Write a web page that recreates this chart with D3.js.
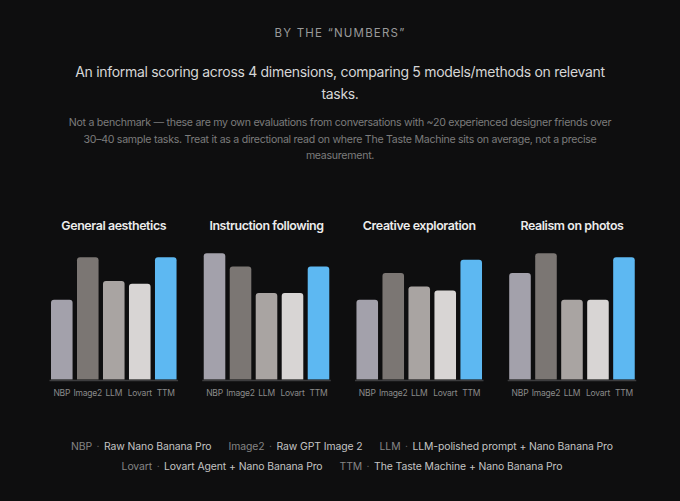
<!DOCTYPE html>
<html><head><meta charset="utf-8">
<script src="https://cdn.jsdelivr.net/npm/d3@7"></script>
<style>
html,body{margin:0;padding:0;background:#0e0e0f;}
svg{display:block;font-family:Inter,"Noto Sans",sans-serif;}
</style></head>
<body>
<svg id="c" width="680" height="501"></svg>
<script>
const dimensions = ["General aesthetics","Instruction following","Creative exploration","Realism on photos"];
const models = ["NBP","Image2","LLM","Lovart","TTM"];
const modelNames = ["Raw Nano Banana Pro","Raw GPT Image 2","LLM-polished prompt + Nano Banana Pro","Lovart Agent + Nano Banana Pro","The Taste Machine + Nano Banana Pro"];
const scoresNBP    = [6.0, 9.5, 6.0, 8.0];
const scoresImage2 = [9.2, 8.5, 8.0, 9.5];
const scoresLLM    = [7.4, 6.5, 7.0, 6.0];
const scoresLovart = [7.2, 6.5, 6.7, 6.0];
const scoresTTM    = [9.2, 8.5, 9.0, 9.2];
const colors = ["#a3a1ab","#7b7673","#a9a4a2","#d8d5d4","#5db8f2"];
const eyebrow = "BY THE “NUMBERS”";
const subtitleLines = ["An informal scoring across 4 dimensions, comparing 5 models/methods on relevant","tasks."];
const noteLines = ["Not a benchmark — these are my own evaluations from conversations with ~20 experienced designer friends over","30–40 sample tasks. Treat it as a directional read on where The Taste Machine sits on average, not a precise","measurement."];
const legendRows = [[0,1,2],[3,4]];

const series = [scoresNBP, scoresImage2, scoresLLM, scoresLovart, scoresTTM];
const svg = d3.select("#c");
const W = 680;

svg.append("text").attr("x", W/2).attr("y", 36.7).attr("text-anchor","middle")
  .attr("fill","#9a9a9a").attr("font-size",11.5).attr("letter-spacing","1.2px").text(eyebrow);

svg.selectAll("text.sub").data(subtitleLines).join("text").attr("class","sub")
  .attr("x", W/2).attr("y",(d,i)=>77+i*21.6).attr("text-anchor","middle")
  .attr("fill","#d6d6d6").attr("font-size",14).attr("letter-spacing","-0.3px").text(d=>d);

svg.selectAll("text.note").data(noteLines).join("text").attr("class","note")
  .attr("x", W/2).attr("y",(d,i)=>126.4+i*16.3).attr("text-anchor","middle")
  .attr("fill","#7c7c7c").attr("font-size",10.6).attr("letter-spacing","-0.28px").text(d=>d);

const panel = d3.scaleBand().domain(dimensions).range([51, 634.75]).paddingInner(0.178);
const y = d3.scaleLinear().domain([0,10]).range([379.5, 246.5]);
const r = 3;

dimensions.forEach((dim, di) => {
  const x0 = panel(dim), pw = panel.bandwidth();
  const x = d3.scaleBand().domain(models).range([x0, x0+pw]).paddingInner(0.17).paddingOuter(0);
  const g = svg.append("g");
  g.append("text").attr("x", x0+pw/2).attr("y", 229.5).attr("text-anchor","middle")
    .attr("fill","#ececec").attr("font-size",12.4).attr("font-weight",600).attr("letter-spacing","-0.4px").text(dim);
  g.selectAll("path.bar").data(models).join("path").attr("class","bar")
    .attr("fill",(m,i)=>colors[i])
    .attr("d",(m,i)=>{
      const v = series[i][di];
      const bx = x(m), bw = x.bandwidth(), top = y(v), bot = y(0);
      return `M${bx},${bot}V${top+r}Q${bx},${top} ${bx+r},${top}H${bx+bw-r}Q${bx+bw},${top} ${bx+bw},${top+r}V${bot}Z`;
    });
  g.append("line").attr("x1", x0-1.5).attr("x2", x0+pw+1.5).attr("y1", 380.5).attr("y2", 380.5)
    .attr("stroke","#3c3c3e").attr("stroke-width",1.5);
  const ax = g.append("g").attr("transform",`translate(0,386.5)`).call(d3.axisBottom(x).tickSize(0).tickPadding(3));
  ax.select(".domain").remove();
  ax.selectAll("text").attr("fill","#8a8a8a").attr("font-size",8.5).attr("letter-spacing","-0.2px")
    .attr("font-family","Inter,'Noto Sans',sans-serif");
});

// legend
legendRows.forEach((row, ri) => {
  const g = svg.append("g");
  let cx = 0;
  const gap = 17;
  row.forEach((mi, k) => {
    const it = g.append("g").attr("transform",`translate(${cx},0)`).attr("font-size",10.4).attr("letter-spacing","-0.08px");
    const t1 = it.append("text").attr("fill","#858585").text(models[mi]);
    const w1 = t1.node().getComputedTextLength();
    const t2 = it.append("text").attr("x", w1+4.5).attr("fill","#6a6a6a").text("·");
    const w2 = t2.node().getComputedTextLength();
    const t3 = it.append("text").attr("x", w1+w2+9).attr("fill","#c4c4c4").text(modelNames[mi]);
    cx += w1+w2+9+t3.node().getComputedTextLength() + gap;
  });
  const total = cx - gap;
  g.attr("transform",`translate(${W/2 - total/2 + 2},${449.5 + ri*20.3})`);
});
</script>
</body></html>
